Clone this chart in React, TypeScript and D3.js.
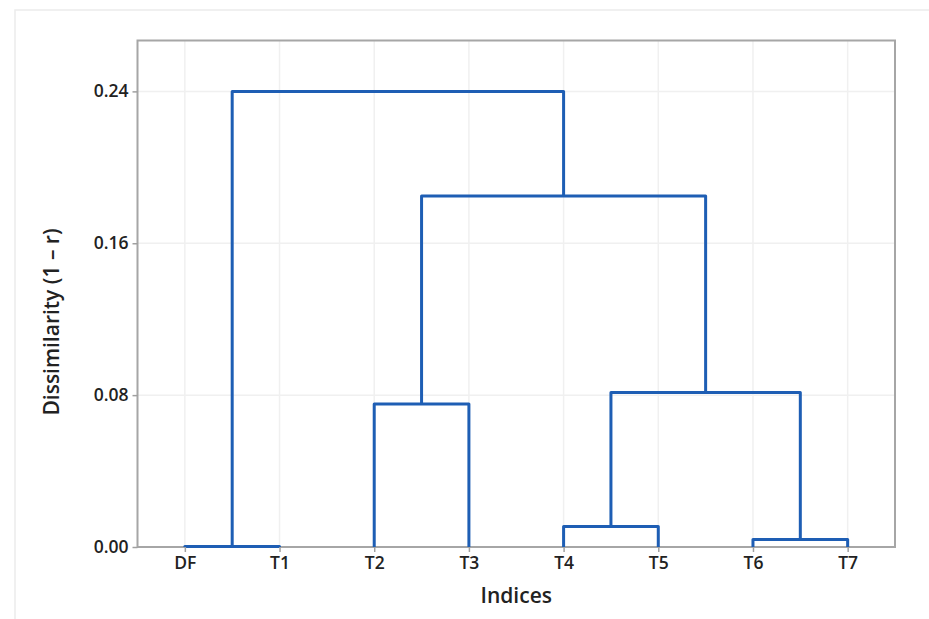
import React, { useEffect, useRef } from "react";
import * as d3 from "d3";

// leaf labels, in dendrogram order
const leaves = ["DF", "T1", "T2", "T3", "T4", "T5", "T6", "T7"];
// merges: [left node, right node, dissimilarity]; leaves are nodes 0-7, merges become 8, 9, ...
const mergeLeft = [0, 2, 4, 6, 10, 9, 8];
const mergeRight = [1, 3, 5, 7, 11, 12, 13];
const mergeHeight = [0.0003, 0.0753, 0.0108, 0.004, 0.0814, 0.1849, 0.24];
const yTicks = [0, 0.08, 0.16, 0.24];

export default function App() {
  const svgRef = useRef<SVGSVGElement>(null);
  const width = 929;
  const height = 619;
  const marginLeft = 137.5;
  const marginRight = 34;
  const marginTop = 40.5;
  const marginBottom = 72;

  useEffect(() => {
    const svg = d3.select(svgRef.current);
    svg.selectAll("*").remove();

    const x = d3.scalePoint<string>().domain(leaves).range([marginLeft, width - marginRight]).padding(0.5);
    const y = d3.scaleLinear().domain([0, 0.2668]).range([height - marginBottom, marginTop]);

    // faint outer border of the figure
    svg.append("rect")
      .attr("x", 15).attr("y", 10).attr("width", width).attr("height", height)
      .attr("fill", "none").attr("stroke", "#ececec").attr("stroke-width", 1.5);

    // gridlines
    const grid = svg.append("g");
    grid.selectAll("line.v").data(leaves).enter().append("line")
      .attr("x1", d => x(d)!).attr("x2", d => x(d)!)
      .attr("y1", marginTop).attr("y2", height - marginBottom)
      .attr("stroke", "#f0f0f0").attr("stroke-width", 1.5);
    grid.selectAll("line.h").data(yTicks).enter().append("line")
      .attr("x1", marginLeft).attr("x2", width - marginRight)
      .attr("y1", d => y(d)).attr("y2", d => y(d))
      .attr("stroke", "#f0f0f0").attr("stroke-width", 1.5);

    // plot frame
    svg.append("rect")
      .attr("x", marginLeft).attr("y", marginTop)
      .attr("width", width - marginLeft - marginRight)
      .attr("height", height - marginTop - marginBottom)
      .attr("fill", "none").attr("stroke", "#a6a6a6").attr("stroke-width", 2);

    // node positions
    const nodeX: number[] = leaves.map(d => x(d)!);
    const nodeH: number[] = leaves.map(() => 0);
    mergeLeft.forEach((l, i) => {
      const r = mergeRight[i];
      nodeX.push((nodeX[l] + nodeX[r]) / 2);
      nodeH.push(mergeHeight[i]);
    });

    // dendrogram links
    svg.append("g").selectAll("path").data(mergeLeft).enter().append("path")
      .attr("d", (l, i) => {
        const r = mergeRight[i];
        const path = d3.path();
        path.moveTo(nodeX[l], y(nodeH[l]));
        path.lineTo(nodeX[l], y(mergeHeight[i]));
        path.lineTo(nodeX[r], y(mergeHeight[i]));
        path.lineTo(nodeX[r], y(nodeH[r]));
        return path.toString();
      })
      .attr("fill", "none")
      .attr("stroke", "#1e5eb4")
      .attr("stroke-width", 3)
      .attr("stroke-linejoin", "round");

    // axes
    const font = "'Open Sans', 'Noto Sans', sans-serif";
    const yAxis = svg.append("g")
      .attr("transform", `translate(${marginLeft},0)`)
      .call(d3.axisLeft(y).tickValues(yTicks).tickFormat(d3.format(".2f")).tickSize(5).tickPadding(4));
    const xAxis = svg.append("g")
      .attr("transform", `translate(0,${height - marginBottom})`)
      .call(d3.axisBottom(x).tickSize(5).tickPadding(5));
    [xAxis, yAxis].forEach(a => {
      a.select(".domain").remove();
      a.selectAll(".tick line").attr("stroke", "#a0a0a0").attr("stroke-width", 1.5);
      a.selectAll(".tick text").attr("fill", "#222").attr("font-family", font).attr("font-size", 17.5).attr("font-weight", 600);
    });

    // titles
    svg.append("text")
      .attr("x", (marginLeft + width - marginRight) / 2).attr("y", 603)
      .attr("text-anchor", "middle").attr("fill", "#222")
      .attr("font-family", font).attr("font-size", 21).attr("font-weight", 600)
      .text("Indices");
    svg.append("text")
      .attr("transform", `translate(59,322) rotate(-90)`)
      .attr("text-anchor", "middle").attr("fill", "#222")
      .attr("font-family", font).attr("font-size", 21).attr("font-weight", 600)
      .text("Dissimilarity (1 – r)");
  }, []);

  return (
    <svg ref={svgRef} width={width} height={height} style={{ position: "absolute", left: 0, top: 0, background: "#fff" }} />
  );
}
